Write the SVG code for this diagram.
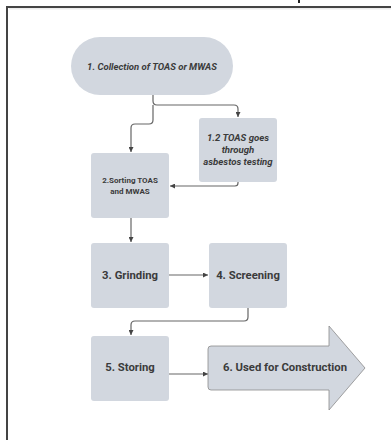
<svg xmlns="http://www.w3.org/2000/svg" width="391" height="440" viewBox="0 0 391 440">
<defs>
<marker id="ah" viewBox="0 0 10 10" refX="10" refY="5" markerWidth="5" markerHeight="5" orient="auto" markerUnits="userSpaceOnUse">
<path d="M0,0 L10,5 L0,10 z" fill="#444"/>
</marker>
</defs>
<style>
.n{fill:#d2d7df;}
.t{font-family:Roboto,"Liberation Sans",sans-serif;font-weight:bold;fill:#3b3b3b;text-anchor:middle;}
.i{font-style:italic;}
.m{font-size:11.3px;}
.c{fill:none;stroke:#666;stroke-width:1.2;marker-end:url(#ah);}
</style>
<rect x="0" y="0" width="391" height="440" fill="#fff"/>
<path d="M7,440 V7 H391" fill="none" stroke="#444" stroke-width="2"/>
<line x1="9" y1="8.8" x2="391" y2="8.8" stroke="#ddd" stroke-width="0.8"/>
<rect x="298" y="0" width="2" height="3" fill="#222"/>
<g id="connectors">
<path class="c" d="M153,95 V101 Q153,105 157,105 H234 Q238,105 238,109 V117"/>
<path class="c" d="M153,105 V120 Q153,124 149,124 H135 Q131,124 131,128 V152"/>
<path class="c" d="M238,182 V183 Q238,186 235,186 H170"/>
<path class="c" d="M131,218 V242"/>
<path class="c" d="M169,275 H208"/>
<path class="c" d="M248,308 V317 Q248,321 244,321 H135 Q131,321 131,325 V335"/>
<path class="c" d="M169,374 H208"/>
</g>
<g id="n1">
<rect class="n" x="71" y="37" width="162" height="58" rx="29"/>
<text class="t i" x="152" y="69.5" font-size="9.5">1. Collection of TOAS or MWAS</text>
</g>
<g id="n12">
<rect class="n" x="199" y="118" width="78" height="64" rx="3"/>
<text class="t i" x="238" y="140.5" font-size="9.6">1.2 TOAS goes</text>
<text class="t i" x="238" y="152.5" font-size="9.6">through</text>
<text class="t i" x="238" y="164.5" font-size="9.6">asbestos testing</text>
</g>
<g id="n2">
<rect class="n" x="91" y="153" width="78" height="65" rx="3"/>
<text class="t" x="130" y="183" font-size="8">2.Sorting TOAS</text>
<text class="t" x="130" y="194" font-size="8">and MWAS</text>
</g>
<g id="n3">
<rect class="n" x="91" y="243" width="78" height="65" rx="3"/>
<text class="t m" x="130" y="279">3. Grinding</text>
</g>
<g id="n4">
<rect class="n" x="209" y="243" width="78" height="65" rx="3"/>
<text class="t m" x="248" y="279">4. Screening</text>
</g>
<g id="n5">
<rect class="n" x="91" y="336" width="78" height="65" rx="3"/>
<text class="t m" x="130" y="371">5. Storing</text>
</g>
<g id="n6">
<path class="n" d="M211,346 H329 V326 L365,368 L329,410 V390 H211 Q208,390 208,387 V349 Q208,346 211,346 z" stroke="#8a8a8a" stroke-width="0.8"/>
<text class="t m" x="285" y="371">6. Used for Construction</text>
</g>
</svg>
